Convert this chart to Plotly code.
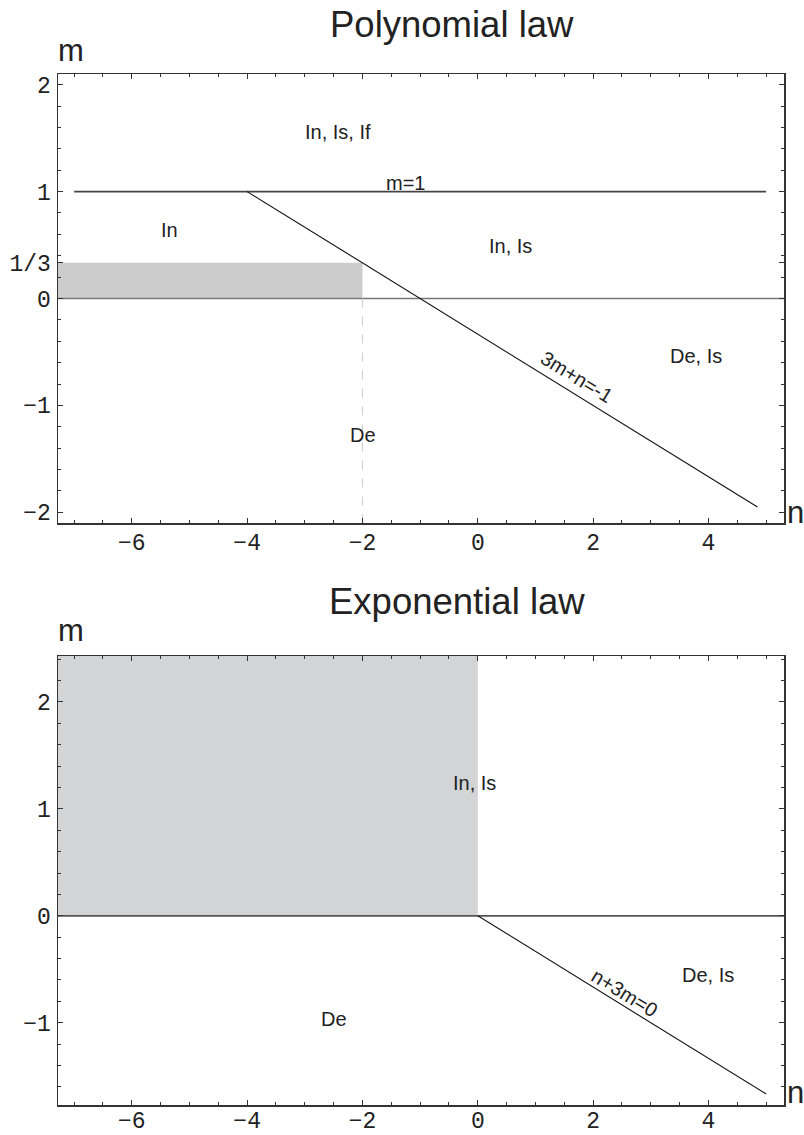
import plotly.graph_objects as go

# ---------------- data: Polynomial law (top) ----------------
poly_xrange = [-7.28, 5.31]
poly_yrange = [-2.1, 2.1]
poly_rect_n = [-7.28, -2, -2, -7.28, -7.28]
poly_rect_m = [0, 0, 1 / 3, 1 / 3, 0]
poly_m1_n = [-7, 5]
poly_m1_m = [1, 1]
poly_diag_n = [-4, 4.85]
poly_diag_m = [1, -1.95]
poly_dash_n = [-2, -2]
poly_dash_m = [0, -2.1]
poly_zero_n = [-7.28, 5.31]
poly_zero_m = [0, 0]
poly_ytickvals = [-2, -1, 0, 1 / 3, 1, 2]
poly_yticktext = ["\u22122", "\u22121", "0", "1/3", "1", "2"]
poly_labels = ["In, Is, If", "m=1", "In", "In, Is", "De, Is", "De"]
poly_label_n = [-2.43, -1.25, -5.34, 0.57, 3.78, -1.99]
poly_label_m = [1.56, 1.08, 0.645, 0.49, -0.54, -1.28]
poly_line_label = "3m+n=-1"
poly_line_label_pos = [1.72, -0.73]

# ---------------- data: Exponential law (bottom) ----------------
exp_xrange = [-7.28, 5.31]
exp_yrange = [-1.77, 2.43]
exp_rect_n = [-7.28, 0, 0, -7.28, -7.28]
exp_rect_m = [0, 0, 2.43, 2.43, 0]
exp_diag_n = [0, 5]
exp_diag_m = [0, -1.667]
exp_zero_n = [-7.28, 5.31]
exp_zero_m = [0, 0]
exp_ytickvals = [-1, 0, 1, 2]
exp_yticktext = ["\u22121", "0", "1", "2"]
exp_labels = ["In, Is", "De, Is", "De"]
exp_label_n = [-0.05, 4.0, -2.5]
exp_label_m = [1.24, -0.55, -0.97]
exp_line_label = "n+3m=0"
exp_line_label_pos = [2.55, -0.72]

xtickvals = [-6, -4, -2, 0, 2, 4]
xticktext = ["\u22126", "\u22124", "\u22122", "0", "2", "4"]

W, H = 804, 1135
TXT = "#222222"
SANS = "Liberation Sans, Arial, sans-serif"
MONO = "Liberation Mono, Courier New, monospace"
LBL = 20
TICK = 23

def px(v):
    return v / W

def py(v):
    return 1 - v / H

fig = go.Figure()

# top traces
fig.add_trace(go.Scatter(x=poly_rect_n, y=poly_rect_m, fill="toself", fillcolor="#cccccc",
                         line=dict(width=0), mode="lines", xaxis="x", yaxis="y", hoverinfo="skip"))
fig.add_trace(go.Scatter(x=poly_zero_n, y=poly_zero_m, mode="lines",
                         line=dict(color="#777777", width=1.5), xaxis="x", yaxis="y"))
fig.add_trace(go.Scatter(x=poly_dash_n, y=poly_dash_m, mode="lines",
                         line=dict(color="#cfcfcf", width=1.2, dash="dash"), xaxis="x", yaxis="y"))
fig.add_trace(go.Scatter(x=poly_m1_n, y=poly_m1_m, mode="lines",
                         line=dict(color="#444444", width=1.8), xaxis="x", yaxis="y"))
fig.add_trace(go.Scatter(x=poly_diag_n, y=poly_diag_m, mode="lines",
                         line=dict(color="#111111", width=1.1), xaxis="x", yaxis="y"))

# bottom traces
fig.add_trace(go.Scatter(x=exp_rect_n, y=exp_rect_m, fill="toself", fillcolor="#d3d4d6",
                         line=dict(width=0), mode="lines", xaxis="x2", yaxis="y2", hoverinfo="skip"))
fig.add_trace(go.Scatter(x=exp_zero_n, y=exp_zero_m, mode="lines",
                         line=dict(color="#555555", width=1.8), xaxis="x2", yaxis="y2"))
fig.add_trace(go.Scatter(x=exp_diag_n, y=exp_diag_m, mode="lines",
                         line=dict(color="#111111", width=1.1), xaxis="x2", yaxis="y2"))

xdom = [px(58), px(784)]
top_dom = [py(523), py(74)]
bot_dom = [py(1105), py(656)]

def xax(rng, anchor, standoff):
    return dict(domain=xdom, range=rng, anchor=anchor, showgrid=False, zeroline=False,
                showline=True, linecolor="#333333", linewidth=1.5, mirror="allticks",
                ticks="inside", ticklen=5, tickwidth=1, tickcolor="#333333",
                tickvals=xtickvals, ticktext=xticktext, ticklabelstandoff=standoff,
                tickfont=dict(family=MONO, size=TICK, color=TXT),
                minor=dict(dtick=0.5, tick0=0, ticks="inside", ticklen=3, tickcolor="#333333"),
                automargin=False, fixedrange=True)

def yax(rng, anchor, dom, tv, tt):
    return dict(domain=dom, range=rng, anchor=anchor, showgrid=False, zeroline=False,
                showline=True, linecolor="#333333", linewidth=1.5, mirror="allticks",
                ticks="inside", ticklen=5, tickwidth=1, tickcolor="#333333",
                tickvals=tv, ticktext=tt, ticklabelstandoff=1,
                tickfont=dict(family=MONO, size=TICK, color=TXT),
                minor=dict(dtick=0.2, tick0=0, ticks="inside", ticklen=3, tickcolor="#333333"),
                automargin=False, fixedrange=True)

annotations = []
for t, n, m in zip(poly_labels, poly_label_n, poly_label_m):
    annotations.append(dict(x=n, y=m, xref="x", yref="y", text=t, showarrow=False,
                            font=dict(family=SANS, size=LBL, color=TXT)))
annotations.append(dict(x=poly_line_label_pos[0], y=poly_line_label_pos[1], xref="x", yref="y",
                        text=poly_line_label, showarrow=False, textangle=31.7,
                        font=dict(family=SANS, size=LBL, color=TXT)))
for t, n, m in zip(exp_labels, exp_label_n, exp_label_m):
    annotations.append(dict(x=n, y=m, xref="x2", yref="y2", text=t, showarrow=False,
                            font=dict(family=SANS, size=LBL, color=TXT)))
annotations.append(dict(x=exp_line_label_pos[0], y=exp_line_label_pos[1], xref="x2", yref="y2",
                        text=exp_line_label, showarrow=False, textangle=31.5,
                        font=dict(family=SANS, size=LBL, color=TXT)))

def paper(text, x, y, size):
    return dict(x=px(x), y=py(y), xref="paper", yref="paper", text=text, showarrow=False,
                xanchor="center", yanchor="middle", font=dict(family=SANS, size=size, color=TXT))

annotations += [
    paper("Polynomial law", 452, 25, 36.5),
    paper("m", 71, 50, 31),
    paper("n", 795, 512, 31),
    paper("Exponential law", 457, 601, 36.5),
    paper("m", 71, 630, 31),
    paper("n", 795, 1092, 31),
]

fig.update_layout(
    width=W, height=H, margin=dict(l=0, r=0, t=0, b=0),
    paper_bgcolor="white", plot_bgcolor="white", showlegend=False,
    xaxis=xax(poly_xrange, "y", -2),
    yaxis=yax(poly_yrange, "x", top_dom, poly_ytickvals, poly_yticktext),
    xaxis2=xax(exp_xrange, "y2", -6),
    yaxis2=yax(exp_yrange, "x2", bot_dom, exp_ytickvals, exp_yticktext),
    annotations=annotations,
)

fig.write_html(
    "out.html",
    config={"displayModeBar": False, "staticPlot": True},
    post_script="document.body.style.margin='0px';document.body.style.overflow='hidden';",
)
